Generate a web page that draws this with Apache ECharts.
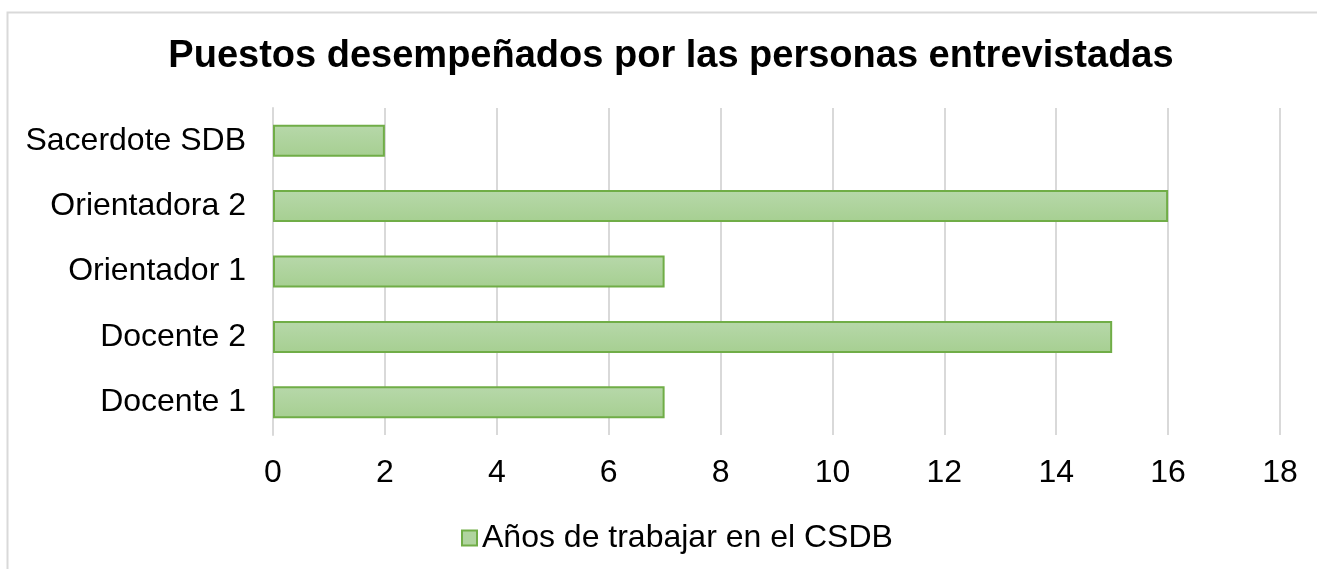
<!DOCTYPE html>
<html><head><meta charset="utf-8">
<script src="https://cdn.jsdelivr.net/npm/echarts@6/dist/echarts.min.js"></script>
<style>html,body{margin:0;padding:0;background:#fff}#c{width:1317px;height:569px}</style>
</head><body><div id="c"></div>
<script>
const categories = ['Docente 1', 'Docente 2', 'Orientador 1', 'Orientadora 2', 'Sacerdote SDB'];
const values = [7, 15, 7, 16, 2];
const seriesName = 'Años de trabajar en el CSDB';
const titleText = 'Puestos desempeñados por las personas entrevistadas';

const chart = echarts.init(document.getElementById('c'));
const font = '"Liberation Sans", Arial, sans-serif';
const grad = new echarts.graphic.LinearGradient(0, 0, 0, 1, [
  {offset: 0, color: '#b7d8aa'}, {offset: 1, color: '#a6cf91'}
]);
chart.setOption({
  animation: false,
  graphic: [{type: 'rect', shape: {x: 7.5, y: 12.5, width: 1330, height: 600},
    style: {fill: 'none', stroke: '#d9d9d9', lineWidth: 2}, silent: true}],
  title: {text: titleText, left: 666, top: 33, textAlign: 'center',
    textStyle: {fontFamily: font, fontWeight: 'bold', fontSize: 38, color: '#000'}},
  legend: {left: 456, top: 517, itemWidth: 15, itemHeight: 15, itemGap: 8,
    icon: 'rect',
    textStyle: {fontFamily: font, fontSize: 32, color: '#000'},
    data: [{name: seriesName, itemStyle: {color: '#b0d49f', borderColor: '#70ad47', borderWidth: 2}}]},
  grid: {left: 273, right: 37, top: 108, bottom: 134, containLabel: false},
  xAxis: {type: 'value', min: 0, max: 18, interval: 2,
    axisLine: {show: false}, axisTick: {show: false},
    splitLine: {lineStyle: {color: '#d9d9d9', width: 2}},
    axisLabel: {fontFamily: font, fontSize: 32, color: '#000', margin: 22}},
  yAxis: {type: 'category', data: categories,
    axisLine: {show: true, lineStyle: {color: '#d9d9d9', width: 2}}, axisTick: {show: false},
    axisLabel: {fontFamily: font, fontSize: 32, color: '#000', margin: 27}},
  series: [{type: 'bar', name: seriesName, data: values, barCategoryGap: '51%',
    itemStyle: {color: grad, borderColor: '#70ad47', borderWidth: 2}}]
});
</script></body></html>
